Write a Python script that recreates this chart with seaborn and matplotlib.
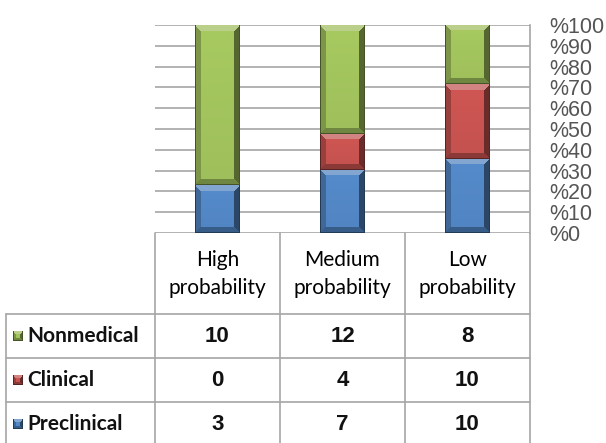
import numpy as np
import pandas as pd
import matplotlib
matplotlib.use("Agg")
import matplotlib.pyplot as plt
from matplotlib.colors import to_rgb
from matplotlib.patches import Rectangle
import seaborn as sns

# Survey counts per probability group
groups = ["High\nprobability", "Medium\nprobability", "Low\nprobability"]
series = ["Nonmedical", "Clinical", "Preclinical"]          # table row order
stack_order = ["Preclinical", "Clinical", "Nonmedical"]     # bottom to top
nonmedical = [10, 12, 8]
clinical = [0, 4, 10]
preclinical = [3, 7, 10]
pct_ticks = [0, 10, 20, 30, 40, 50, 60, 70, 80, 90, 100]
pct_labels = [f"%{t}" for t in pct_ticks]

palette = {"Preclinical": "#4F81BD", "Clinical": "#C0504D", "Nonmedical": "#9BBB59"}

counts = pd.DataFrame(
    {"Nonmedical": nonmedical, "Clinical": clinical, "Preclinical": preclinical},
    index=groups,
)
shares = counts.div(counts.sum(axis=1), axis=0) * 100

sns.set_style("white")
plt.rcParams["font.family"] = ["Liberation Sans", "DejaVu Sans"]

W_PX, H_PX = 606, 443
fig = plt.figure(figsize=(W_PX / 100, H_PX / 100), dpi=100)

# chart area (pixel layout)
ax_left, ax_right, ax_top, ax_bottom = 155, 530, 25, 233
ax = fig.add_axes([ax_left / W_PX, 1 - ax_bottom / H_PX,
                   (ax_right - ax_left) / W_PX, (ax_bottom - ax_top) / H_PX])

bottom = np.zeros(len(groups))
for name in stack_order:
    sns.barplot(x=groups, y=shares[name].values, order=groups, color=palette[name],
                width=0.36, bottom=bottom, ax=ax, saturation=1,
                edgecolor="none", linewidth=0, zorder=3)
    bottom = bottom + shares[name].values

ax.set_xlim(-0.5, len(groups) - 0.5)
ax.set_ylim(0, 100)
ax.set_yticks(pct_ticks)
ax.set_yticklabels(pct_labels)
ax.yaxis.tick_right()
ax.tick_params(axis="y", length=0, pad=14, labelsize=15.5, labelcolor="#555555")
ax.tick_params(axis="x", length=0, labelbottom=False)
ax.set_xlabel("")
ax.set_ylabel("")
ax.yaxis.grid(True, color="#A6A6A6", linewidth=1.2)
ax.set_axisbelow(True)
for side in ("left", "top", "bottom"):
    ax.spines[side].set_visible(False)
ax.spines["right"].set_color("#A6A6A6")
ax.spines["right"].set_linewidth(1.2)


def bevel_image(color, w, h, b=6):
    """Shaded RGB block with a bevelled rim, w x h pixels."""
    c = np.array(to_rgb(color))
    w, h = max(int(round(w)), 2), max(int(round(h)), 2)
    xs = np.arange(w) + 0.5
    ys = np.arange(h) + 0.5
    X, Y = np.meshgrid(xs, ys)
    dl, dr = X, w - X
    dt, db = Y, h - Y
    dx = np.minimum(dl, dr)
    img = np.empty((h, w, 3))
    face = c * (1.02 + 0.06 * (1 - Y / h))[..., None]
    img[:] = face
    bb = min(b, h / 2.2)
    top = (dt < bb) & (dt <= dx)
    bot = (db < bb) & (db <= dx)
    left = (dl < b) & ~top & ~bot
    right = (dr < b) & ~top & ~bot
    light = c + (1 - c) * 0.3
    img[top] = light
    img[bot] = c * 0.72
    img[left] = c * 0.8
    img[right] = c * 0.55
    # thin dark outline
    edge = (dl < 1) | (dr < 1) | (db < 1)
    img[edge] = c * 0.45
    return np.clip(img, 0, 1)


fig.canvas.draw()
bars = [p for p in ax.patches if isinstance(p, Rectangle) and p.get_height() > 0]
for p in bars:
    x0, y0 = p.get_x(), p.get_y()
    x1, y1 = x0 + p.get_width(), y0 + p.get_height()
    (px0, py0), (px1, py1) = ax.transData.transform([(x0, y0), (x1, y1)])
    img = bevel_image(p.get_facecolor()[:3], px1 - px0, py1 - py0)
    ax.imshow(img, extent=[x0, x1, y0, y1], aspect="auto", origin="upper",
              interpolation="nearest", zorder=4)
ax.set_xlim(-0.5, len(groups) - 0.5)
ax.set_ylim(0, 100)

# data table below the chart
tab = fig.add_axes([0, 0, 1, 1], facecolor="none")
tab.set_xlim(0, W_PX)
tab.set_ylim(H_PX, 0)
tab.axis("off")

col_w = (ax_right - ax_left) / len(groups)
row_edges = [ax_bottom, 314, 358, 402, 446]
left_edge = 6
grid_kw = dict(color="#A6A6A6", linewidth=1.2)

for i in range(len(groups) + 1):
    xv = ax_left + i * col_w
    tab.plot([xv, xv], [ax_bottom, H_PX], **grid_kw)
tab.plot([left_edge, left_edge], [row_edges[1], H_PX], **grid_kw)
for yv in row_edges[1:4]:
    tab.plot([left_edge, ax_right], [yv, yv], **grid_kw)

for i, g in enumerate(groups):
    cx = ax_left + (i + 0.5) * col_w
    tab.text(cx, (row_edges[0] + row_edges[1]) / 2 + 1, g, ha="center", va="center",
             fontsize=15, family=["Lato", "DejaVu Sans"], color="#000000",
             linespacing=1.5)

for r, name in enumerate(series):
    cy = (row_edges[r + 1] + row_edges[r + 2]) / 2
    tab.imshow(bevel_image(palette[name], 10, 10, b=3), extent=[13, 23, cy + 5, cy - 5],
               aspect="auto", origin="upper", interpolation="nearest", zorder=3)
    tab.text(27, cy, name, ha="left", va="center", fontsize=15, fontweight="bold",
             family=["Lato", "DejaVu Sans"], color="#111111")
    for i in range(len(groups)):
        cx = ax_left + (i + 0.5) * col_w
        tab.text(cx, cy, f"{counts[name].iloc[i]}", ha="center", va="center",
                 fontsize=16, fontweight="bold", color="#111111")
tab.set_xlim(0, W_PX)
tab.set_ylim(H_PX, 0)

fig.savefig("out.png", dpi=100)
